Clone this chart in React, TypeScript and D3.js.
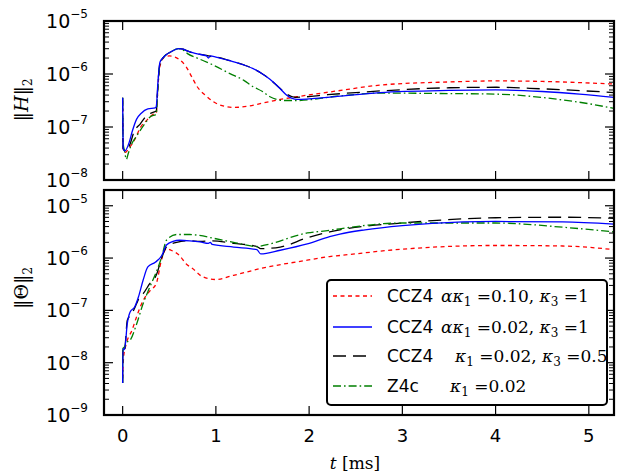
import React from "react";
import * as d3 from "d3";

// ---------- data ----------
// top panel ||H||_2
const tHred = [0, 0.005, 0.03, 0.06, 0.14, 0.19, 0.26, 0.32, 0.36, 0.38, 0.4, 0.45, 0.5, 0.56, 0.6, 0.68, 0.74, 0.8, 0.9, 0.97, 1.1, 1.2, 1.33, 1.5, 1.69, 1.87, 2.3, 2.76, 3.5, 4.0, 4.5, 5.27];
const Hred = [3.16e-7, 3.55e-8, 3.31e-8, 3.8e-8, 6.31e-8, 9.77e-8, 1.35e-7, 1.7e-7, 1.82e-7, 6.31e-7, 1.41e-6, 2.09e-6, 2.19e-6, 2.09e-6, 1.91e-6, 1.38e-6, 8.91e-7, 5.75e-7, 3.8e-7, 3.02e-7, 2.45e-7, 2.34e-7, 2.45e-7, 2.82e-7, 3.31e-7, 3.72e-7, 4.79e-7, 6.17e-7, 7.08e-7, 7.41e-7, 7.24e-7, 6.46e-7];

const tHblue = [0, 0.005, 0.025, 0.07, 0.1, 0.15, 0.2, 0.27, 0.35, 0.36, 0.38, 0.4, 0.44, 0.47, 0.52, 0.6, 0.65, 0.7, 0.8, 0.9, 0.92, 0.94, 1.0, 1.15, 1.3, 1.4, 1.5, 1.58, 1.68, 1.76, 1.87, 2.2, 2.76, 3.5, 4.0, 4.5, 4.9, 5.27];
const Hblue = [3.55e-7, 3.98e-8, 3.55e-8, 5.13e-8, 7.94e-8, 1.41e-7, 1.82e-7, 2.19e-7, 2.29e-7, 2.4e-7, 7.59e-7, 1.66e-6, 2.09e-6, 2.34e-6, 2.63e-6, 3.02e-6, 2.95e-6, 2.69e-6, 2.4e-6, 2.19e-6, 2.0e-6, 2.19e-6, 2.09e-6, 1.78e-6, 1.48e-6, 1.26e-6, 1.0e-6, 7.94e-7, 5.5e-7, 3.98e-7, 3.31e-7, 3.63e-7, 4.47e-7, 4.9e-7, 5.01e-7, 4.68e-7, 4.17e-7, 3.63e-7];

const tHblack = [0, 0.005, 0.025, 0.08, 0.12, 0.19, 0.25, 0.33, 0.36, 0.38, 0.4, 0.44, 0.47, 0.52, 0.6, 0.65, 0.7, 0.8, 0.9, 0.95, 1.0, 1.15, 1.3, 1.4, 1.5, 1.58, 1.68, 1.76, 1.85, 2.2, 2.76, 3.5, 4.0, 4.5, 5.27];
const Hblack = [3.55e-7, 3.98e-8, 3.55e-8, 4.79e-8, 7.94e-8, 1.15e-7, 1.58e-7, 1.91e-7, 2.0e-7, 7.08e-7, 1.58e-6, 2.09e-6, 2.34e-6, 2.63e-6, 3.02e-6, 2.95e-6, 2.69e-6, 2.4e-6, 2.24e-6, 2.14e-6, 2.09e-6, 1.78e-6, 1.48e-6, 1.26e-6, 1.0e-6, 7.94e-7, 5.5e-7, 4.17e-7, 3.63e-7, 4.07e-7, 4.79e-7, 5.5e-7, 5.62e-7, 5.25e-7, 4.47e-7];

const tHgreen = [0, 0.005, 0.02, 0.04, 0.06, 0.09, 0.15, 0.24, 0.3, 0.36, 0.38, 0.4, 0.45, 0.5, 0.6, 0.65, 0.7, 0.8, 0.97, 1.15, 1.3, 1.4, 1.5, 1.58, 1.73, 1.87, 2.3, 2.76, 3.5, 4.0, 4.72, 5.0, 5.27];
const Hgreen = [3.55e-7, 5.01e-8, 3.55e-8, 2.45e-8, 3.16e-8, 4.47e-8, 6.76e-8, 1.17e-7, 1.58e-7, 1.74e-7, 6.31e-7, 1.58e-6, 2.19e-6, 2.51e-6, 3.02e-6, 2.82e-6, 2.4e-6, 2.0e-6, 1.48e-6, 1.02e-6, 7.59e-7, 5.75e-7, 4.68e-7, 3.72e-7, 3.16e-7, 3.16e-7, 3.8e-7, 4.37e-7, 4.27e-7, 4.17e-7, 3.24e-7, 2.75e-7, 2.24e-7];

// bottom panel ||Theta||_2
const tTred = [0, 0.01, 0.04, 0.1, 0.15, 0.22, 0.29, 0.36, 0.42, 0.47, 0.52, 0.61, 0.68, 0.75, 0.86, 1.0, 1.19, 1.48, 1.98, 2.22, 2.33, 3.0, 4.0, 4.72, 5.27];
const Tred = [5.01e-9, 1.26e-8, 2.34e-8, 4.17e-8, 7.59e-8, 1.55e-7, 2.34e-7, 3.24e-7, 9.77e-7, 1.51e-6, 1.41e-6, 1.12e-6, 7.76e-7, 6.31e-7, 4.37e-7, 3.89e-7, 4.68e-7, 6.31e-7, 9.12e-7, 1.07e-6, 1.12e-6, 1.48e-6, 1.74e-6, 1.7e-6, 1.45e-6];

const tTblue = [0, 0.003, 0.02, 0.05, 0.08, 0.13, 0.17, 0.22, 0.27, 0.35, 0.42, 0.47, 0.54, 0.61, 0.72, 0.83, 0.92, 0.94, 0.96, 1.19, 1.44, 1.48, 1.69, 1.98, 2.22, 2.33, 2.6, 3.0, 3.65, 4.0, 4.72, 5.27];
const Tblue = [4.07e-9, 1.86e-8, 1.78e-8, 5.62e-8, 9.33e-8, 1.17e-7, 1.82e-7, 3.8e-7, 6.76e-7, 8.32e-7, 1.12e-6, 1.78e-6, 2.09e-6, 2.19e-6, 2.14e-6, 2.04e-6, 1.91e-6, 2.0e-6, 1.82e-6, 1.62e-6, 1.45e-6, 1.2e-6, 1.41e-6, 1.86e-6, 2.57e-6, 2.88e-6, 3.47e-6, 4.17e-6, 4.9e-6, 5.01e-6, 4.9e-6, 4.47e-6];

const tTblack = [0, 0.003, 0.02, 0.05, 0.1, 0.15, 0.18, 0.22, 0.29, 0.36, 0.42, 0.47, 0.58, 0.72, 0.83, 0.96, 1.19, 1.44, 1.48, 1.69, 1.98, 2.22, 2.33, 3.0, 4.0, 4.72, 5.27];
const Tblack = [4.07e-9, 2.0e-8, 1.78e-8, 6.46e-8, 8.71e-8, 1.35e-7, 1.78e-7, 2.09e-7, 3.24e-7, 4.68e-7, 1.02e-6, 1.62e-6, 2.0e-6, 2.14e-6, 2.09e-6, 2.14e-6, 1.91e-6, 1.66e-6, 1.51e-6, 1.62e-6, 2.45e-6, 3.16e-6, 3.47e-6, 4.68e-6, 5.89e-6, 6.03e-6, 5.75e-6];

const tTgreen = [0, 0.003, 0.02, 0.04, 0.08, 0.15, 0.22, 0.29, 0.36, 0.42, 0.47, 0.58, 0.72, 0.8, 1.0, 1.19, 1.44, 1.51, 1.98, 2.22, 2.33, 3.0, 4.0, 4.72, 5.27];
const Tgreen = [4.07e-9, 1.86e-8, 2.0e-8, 2.4e-8, 2.69e-8, 5.5e-8, 1.35e-7, 2.75e-7, 5.37e-7, 1.07e-6, 2.19e-6, 2.82e-6, 2.82e-6, 2.75e-6, 2.34e-6, 2.0e-6, 1.66e-6, 1.74e-6, 3.02e-6, 3.39e-6, 3.63e-6, 4.68e-6, 4.68e-6, 3.89e-6, 3.16e-6];

const xTicks = [0, 1, 2, 3, 4, 5];
const topExps = [-8, -7, -6, -5];
const botExps = [-9, -8, -7, -6, -5];

// ---------- layout ----------
const W = 618;
const Hh = 473;
const L = 104, R = 614;
const topP = { t: 21, b: 180 };
const botP = { t: 190, b: 415 };

const x = d3.scaleLinear().domain([-0.2, 5.27]).range([L, R]);
const yTop = d3.scaleLog().domain([1e-8, 1e-5]).range([topP.b, topP.t]);
const yBot = d3.scaleLog().domain([1e-9, 2e-5]).range([botP.b, botP.t]);

const styles = {
  red: { stroke: "#ff0000", dash: "4,3.5" },
  blue: { stroke: "#0000ff", dash: "none" },
  black: { stroke: "#000000", dash: "13,7" },
  green: { stroke: "#007f00", dash: "8,3,1.6,3" },
};

function makePath(ts: number[], vs: number[], y: any) {
  const pts = ts.map((t, i) => [t, vs[i]] as [number, number]);
  return d3
    .line<[number, number]>()
    .x((d) => x(d[0]))
    .y((d) => y(d[1]))
    .curve(d3.curveMonotoneX)(pts) as string;
}

function minorTicks(y: any) {
  const [lo, hi] = y.domain();
  const out: number[] = [];
  for (let e = Math.floor(Math.log10(lo)); e <= Math.ceil(Math.log10(hi)); e++) {
    for (let m = 2; m <= 9; m++) {
      const v = m * Math.pow(10, e);
      if (v > lo && v < hi) out.push(v);
    }
  }
  return out;
}

const sans = "'DejaVu Sans', sans-serif";
const serif = "'DejaVu Serif', 'Liberation Serif', serif";

function Panel({ y, top, bottom, exps, id, series, showXLabels }: any) {
  const minors = minorTicks(y);
  return (
    <g>
      <defs>
        <clipPath id={id}>
          <rect x={L} y={top} width={R - L} height={bottom - top} />
        </clipPath>
      </defs>
      <g clipPath={`url(#${id})`}>
        {series.map((s: any, i: number) => (
          <path
            key={i}
            d={makePath(s.t, s.v, y)}
            fill="none"
            stroke={s.style.stroke}
            strokeWidth={1.3}
            strokeDasharray={s.style.dash}
          />
        ))}
      </g>
      {xTicks.map((t) => (
        <g key={t}>
          <line x1={x(t)} x2={x(t)} y1={top} y2={top + 9} stroke="#000" strokeWidth={1.2} />
          <line x1={x(t)} x2={x(t)} y1={bottom} y2={bottom - 9} stroke="#000" strokeWidth={1.2} />
          {showXLabels && (
            <text x={x(t)} y={bottom + 27} textAnchor="middle" fontFamily={sans} fontSize={18}>
              {t}
            </text>
          )}
        </g>
      ))}
      {exps.map((e: number) => {
        const v = Math.pow(10, e);
        const yy = y(v);
        return (
          <g key={e}>
            <line x1={L} x2={L + 9} y1={yy} y2={yy} stroke="#000" strokeWidth={1.2} />
            <line x1={R} x2={R - 9} y1={yy} y2={yy} stroke="#000" strokeWidth={1.2} />
            <text x={88} y={yy + 7} textAnchor="end" fontFamily={sans} fontSize={19}>
              10
              <tspan fontSize={12} dy={-10}>
                {"\u2212" + Math.abs(e)}
              </tspan>
            </text>
          </g>
        );
      })}
      {minors.map((v, i) => (
        <g key={"m" + i}>
          <line x1={L} x2={L + 5} y1={y(v)} y2={y(v)} stroke="#000" strokeWidth={1} />
          <line x1={R} x2={R - 5} y1={y(v)} y2={y(v)} stroke="#000" strokeWidth={1} />
        </g>
      ))}
      <rect x={L} y={top} width={R - L} height={bottom - top} fill="none" stroke="#000" strokeWidth={2.2} />
    </g>
  );
}

export default function App() {
  const topSeries = [
    { t: tHred, v: Hred, style: styles.red },
    { t: tHblack, v: Hblack, style: styles.black },
    { t: tHgreen, v: Hgreen, style: styles.green },
    { t: tHblue, v: Hblue, style: styles.blue },
  ];
  const botSeries = [
    { t: tTred, v: Tred, style: styles.red },
    { t: tTblack, v: Tblack, style: styles.black },
    { t: tTgreen, v: Tgreen, style: styles.green },
    { t: tTblue, v: Tblue, style: styles.blue },
  ];
  const legendRows = [
    { style: styles.red, name: "CCZ4", y: 296 },
    { style: styles.blue, name: "CCZ4", y: 327 },
    { style: styles.black, name: "CCZ4", y: 356 },
    { style: styles.green, name: "Z4c", y: 386 },
  ];
  const mfs = 17;
  const sfs = 12;
  return (
    <svg
      width={W}
      height={Hh}
      viewBox={`0 0 ${W} ${Hh}`}
      style={{ position: "absolute", left: 0, top: 0, background: "#fff" }}
    >
      <rect x={0} y={0} width={W} height={Hh} fill="#fff" />
      <Panel y={yTop} top={topP.t} bottom={topP.b} exps={topExps} id="clipTop" series={topSeries} showXLabels={false} />
      <Panel y={yBot} top={botP.t} bottom={botP.b} exps={botExps} id="clipBot" series={botSeries} showXLabels={true} />

      <text transform="translate(28,100) rotate(-90)" textAnchor="middle" fontFamily={serif} fontSize={19}>
        ‖<tspan fontStyle="italic">H</tspan>‖<tspan fontSize={12} dy={4}>2</tspan>
      </text>
      <text transform="translate(28,288) rotate(-90)" textAnchor="middle" fontFamily={serif} fontSize={19}>
        ‖Θ‖<tspan fontSize={12} dy={4}>2</tspan>
      </text>

      <text x={355} y={469} textAnchor="middle" fontFamily={serif} fontSize={17}>
        <tspan fontStyle="italic">t</tspan> [ms]
      </text>

      <rect x={327} y={280} width={280} height={125} rx={4} ry={4} fill="#fff" stroke="#000" strokeWidth={2} />
      {legendRows.map((r, i) => (
        <g key={i}>
          <line x1={333} x2={372} y1={r.y} y2={r.y} stroke={r.style.stroke} strokeWidth={1.3} strokeDasharray={r.style.dash} />
          <text x={387} y={r.y + 6} fontFamily={sans} fontSize={mfs}>
            {r.name}
          </text>
        </g>
      ))}
      <text x={441} y={302} fontFamily={serif} fontSize={mfs}>
        <tspan fontStyle="italic">ακ</tspan>
        <tspan fontSize={sfs} dy={4}>1</tspan>
        <tspan dy={-4}> =0.10, </tspan>
        <tspan fontStyle="italic">κ</tspan>
        <tspan fontSize={sfs} dy={4}>3</tspan>
        <tspan dy={-4}> =1</tspan>
      </text>
      <text x={441} y={333} fontFamily={serif} fontSize={mfs}>
        <tspan fontStyle="italic">ακ</tspan>
        <tspan fontSize={sfs} dy={4}>1</tspan>
        <tspan dy={-4}> =0.02, </tspan>
        <tspan fontStyle="italic">κ</tspan>
        <tspan fontSize={sfs} dy={4}>3</tspan>
        <tspan dy={-4}> =1</tspan>
      </text>
      <text x={455} y={362} fontFamily={serif} fontSize={mfs}>
        <tspan fontStyle="italic">κ</tspan>
        <tspan fontSize={sfs} dy={4}>1</tspan>
        <tspan dy={-4}> =0.02, </tspan>
        <tspan fontStyle="italic">κ</tspan>
        <tspan fontSize={sfs} dy={4}>3</tspan>
        <tspan dy={-4}> =0.5</tspan>
      </text>
      <text x={450} y={392} fontFamily={serif} fontSize={mfs}>
        <tspan fontStyle="italic">κ</tspan>
        <tspan fontSize={sfs} dy={4}>1</tspan>
        <tspan dy={-4}> =0.02</tspan>
      </text>
    </svg>
  );
}
